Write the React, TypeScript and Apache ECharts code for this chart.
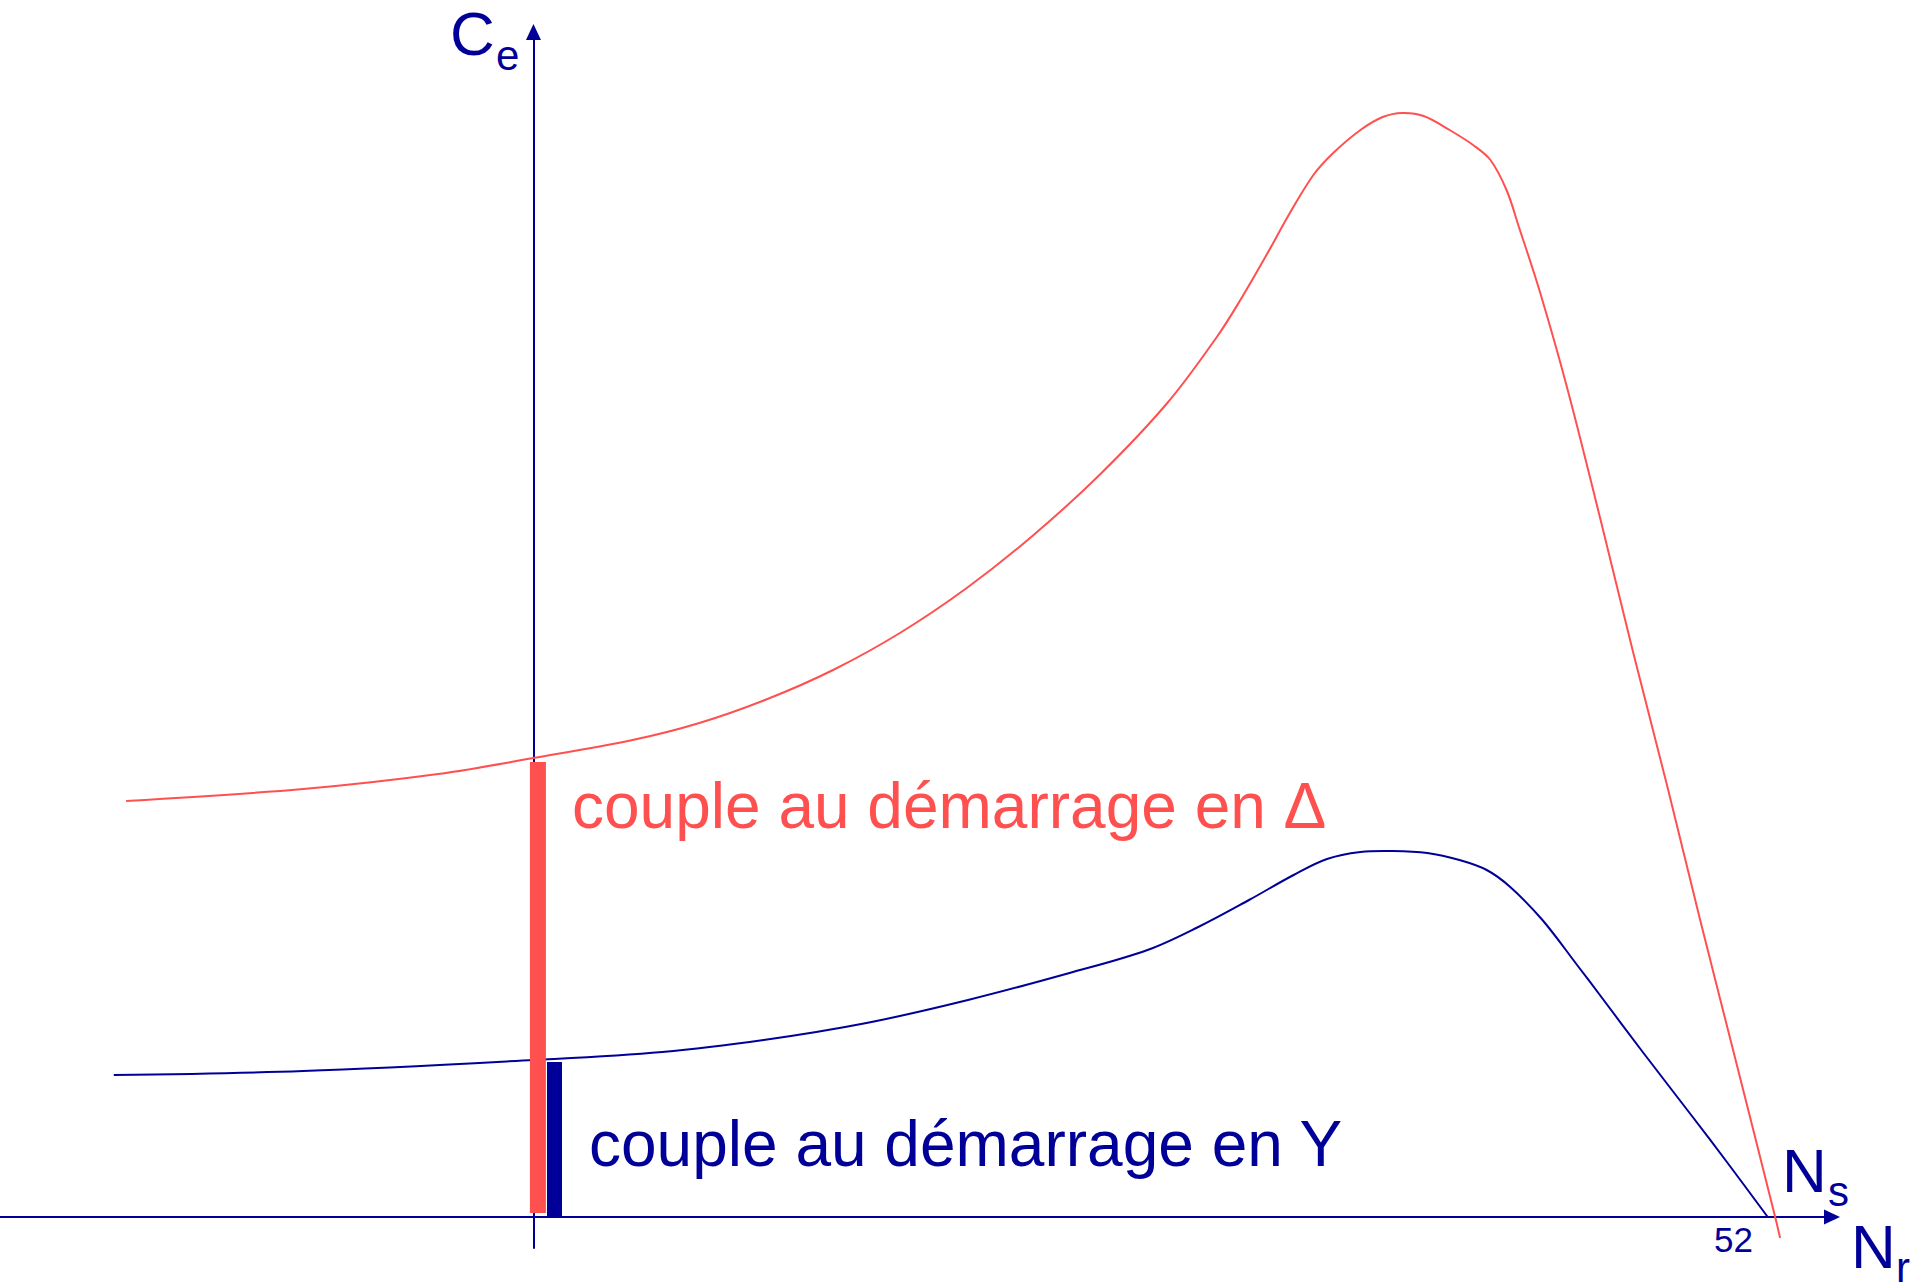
import React, { useEffect, useRef } from "react";
import * as echarts from "echarts";

// Couple en triangle (Δ) : vitesse relative (Ns ≈ 100) et couple (unités arbitraires)
const deltaSpeed = [-32.9, -18.6, -7.7, 0, 8.0, 13.4, 18.9, 24.2, 29.6, 35.0, 40.3, 45.8, 51.2, 55.2, 57.1, 59.3, 61.1, 63.0, 64.6, 66.8, 68.6, 70.2, 71.9, 74.0, 75.9, 77.3, 78.6, 79.6, 81.3, 83.5, 86.2, 88.8, 91.6, 94.2, 96.9, 100.3, 100.7];
const deltaTorque = [41.6, 42.8, 44.3, 45.9, 47.7, 49.4, 51.8, 54.7, 58.4, 62.9, 68.1, 74.3, 81.4, 88.0, 91.7, 96.4, 100.4, 104.2, 106.4, 108.7, 110.0, 110.4, 110.1, 108.7, 107.2, 105.7, 102.7, 99.0, 92.5, 82.9, 69.7, 56.6, 43.0, 29.9, 16.7, 0, -2.1];

// Couple en étoile (Y)
const starSpeed = [-33.9, -18.6, 0, 10.4, 18.6, 26.9, 35.1, 43.3, 49.6, 53.7, 57.8, 61.4, 64.1, 66.8, 69.4, 72.2, 74.8, 77.0, 78.9, 81.5, 84.3, 86.2, 89.6, 93.7, 96.4, 99.7];
const starTorque = [14.2, 14.6, 15.7, 16.5, 17.7, 19.4, 21.7, 24.4, 26.7, 29.0, 31.7, 34.2, 35.8, 36.5, 36.6, 36.4, 35.7, 34.7, 33.0, 29.7, 25.2, 22.1, 16.5, 9.9, 5.5, 0];

// Couples au démarrage : [vitesse, bas, haut]
const startDelta = [0.36, 0.4, 45.5];
const startStar = [1.7, 0, 15.5];

// Textes
const labelDelta = "couple au démarrage en Δ";
const labelStar = "couple au démarrage en Y";
const axisYMain = "C";
const axisYSub = "e";
const axisXTopMain = "N";
const axisXTopSub = "s";
const axisXBotMain = "N";
const axisXBotSub = "r";
const tickLabel = "52";

const RED = "#FF5050";
const BLUE = "#000099";
const FONT = "'Liberation Sans', Arial, sans-serif";

function zip(xs: number[], ys: number[]) {
  return xs.map((x, i) => [x, ys[i]]);
}

// Smooth curve through all points, positioned with the chart's own scales
function curveSeries(xs: number[], ys: number[], color: string) {
  return {
    type: "custom",
    data: zip(xs, ys),
    encode: { x: 0, y: 1 },
    z: 3,
    renderItem: (params: any, api: any) => {
      if (params.dataIndex !== 0) return null;
      const pts = xs.map((x, i) => api.coord([x, ys[i]]));
      return {
        type: "polyline",
        shape: { points: pts, smooth: 0.35 },
        style: { stroke: color, lineWidth: 2, fill: "none" },
      };
    },
  };
}

function barRender(width: number, color: string) {
  return (params: any, api: any) => {
    const x = api.value(0);
    const p0 = api.coord([x, api.value(1)]);
    const p1 = api.coord([x, api.value(2)]);
    return {
      type: "rect",
      shape: { x: p0[0] - width / 2, y: p1[1], width, height: p0[1] - p1[1] },
      style: { fill: color },
    };
  };
}

function txt(text: string, x: number, y: number, size: number, color: string) {
  return {
    type: "text",
    x,
    y,
    z: 10,
    style: {
      text,
      fill: color,
      font: `${size}px ${FONT}`,
      align: "left",
      verticalAlign: "middle",
    },
  };
}

export default function App() {
  const ref = useRef<HTMLDivElement>(null);
  useEffect(() => {
    if (!ref.current) return;
    const chart = echarts.init(ref.current, null, { renderer: "svg" });
    chart.setOption({
      animation: false,
      backgroundColor: "#ffffff",
      grid: { left: 0, right: 88, top: 32, bottom: 39 },
      xAxis: {
        type: "value",
        min: -43.09,
        max: 104.89,
        axisLine: {
          onZero: true,
          symbol: ["none", "triangle"],
          symbolSize: [15, 16],
          lineStyle: { color: BLUE, width: 2 },
        },
        axisTick: { show: false },
        axisLabel: { show: false },
        splitLine: { show: false },
      },
      yAxis: {
        type: "value",
        min: -3.1,
        max: 118.5,
        axisLine: {
          onZero: true,
          symbol: ["none", "triangle"],
          symbolSize: [15, 16],
          lineStyle: { color: BLUE, width: 2 },
        },
        axisTick: { show: false },
        axisLabel: { show: false },
        splitLine: { show: false },
      },
      series: [
        curveSeries(deltaSpeed, deltaTorque, RED),
        curveSeries(starSpeed, starTorque, BLUE),
        {
          type: "custom",
          data: [startDelta],
          encode: { x: 0, y: [1, 2] },
          renderItem: barRender(16, RED),
          z: 4,
        },
        {
          type: "custom",
          data: [startStar],
          encode: { x: 0, y: [1, 2] },
          renderItem: barRender(15, BLUE),
          z: 4,
        },
      ],
      graphic: [
        txt(labelDelta, 572, 806, 64, RED),
        txt(labelStar, 589, 1144, 64, BLUE),
        txt(axisYMain, 450, 33, 62, BLUE),
        txt(axisYSub, 496, 55, 42, BLUE),
        txt(axisXTopMain, 1782, 1170, 62, BLUE),
        txt(axisXTopSub, 1828, 1191, 42, BLUE),
        txt(axisXBotMain, 1851, 1246, 62, BLUE),
        txt(axisXBotSub, 1896, 1267, 42, BLUE),
        txt(tickLabel, 1714, 1239, 35, BLUE),
      ],
    });
    return () => chart.dispose();
  }, []);
  return (
    <div
      ref={ref}
      style={{ position: "absolute", left: 0, top: 0, width: 1920, height: 1287 }}
    />
  );
}
